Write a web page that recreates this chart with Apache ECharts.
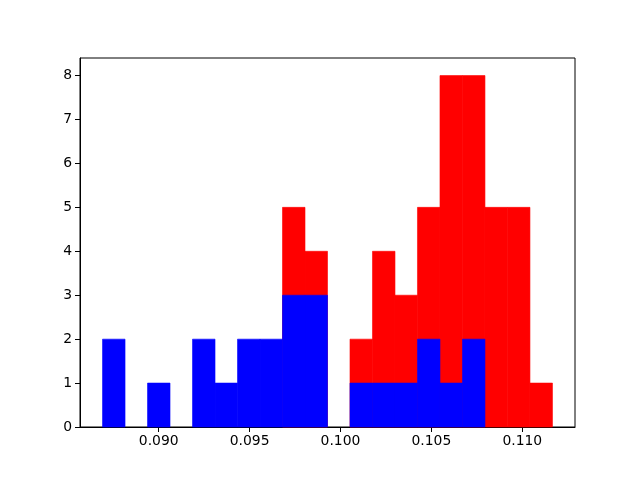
<!DOCTYPE html>
<html>
<head>
<meta charset="utf-8">
<script src="https://cdn.jsdelivr.net/npm/echarts@6/dist/echarts.min.js"></script>
<style>
  html, body { margin: 0; padding: 0; background: #fff; }
  #main { width: 640px; height: 480px; }
</style>
</head>
<body>
<div id="main"></div>
<script>
// shared histogram bins (20 bins)
const binStart = 0.08691;
const binWidth = 0.0012375;
const redCounts  = [0, 0, 0, 0, 0, 0, 0, 0, 5, 4, 0, 2, 4, 3, 5, 8, 8, 5, 5, 1];
const blueCounts = [2, 0, 1, 0, 2, 1, 2, 2, 3, 3, 0, 1, 1, 1, 2, 1, 2, 0, 0, 0];
const xTicks = [0.090, 0.095, 0.100, 0.105, 0.110];
const yTicks = [0, 1, 2, 3, 4, 5, 6, 7, 8];

function toBins(counts) {
  return counts.map((c, i) => [binStart + i * binWidth, binStart + (i + 1) * binWidth, c]);
}

function renderItem(params, api) {
  const h = api.value(2);
  if (!h) return null;
  const p0 = api.coord([api.value(0), h]);
  const p1 = api.coord([api.value(1), 0]);
  const color = api.visual("color");
  return {
    type: "rect",
    shape: { x: p0[0], y: p0[1], width: p1[0] - p0[0], height: p1[1] - p0[1] },
    style: { fill: color, stroke: color, lineWidth: 0.6 },
  };
}

var chartDom = document.getElementById("main");
var myChart = echarts.init(chartDom);
var option;

const labelStyle = {
  fontFamily: "DejaVu Sans, sans-serif",
  fontSize: 13.9,
  color: "#000",
};

option = {
  animation: false,
  grid: {
    left: 80, right: 65, top: 58, bottom: 53,
    show: true, borderColor: "#000", borderWidth: 1,
  },
  xAxis: {
    type: "value",
    min: 0.08567,
    max: 0.1129,
    splitLine: { show: false },
    axisLine: { lineStyle: { color: "#000" } },
    axisTick: { show: true, length: 5, customValues: xTicks, lineStyle: { color: "#000" } },
    axisLabel: {
      ...labelStyle,
      margin: 7,
      customValues: xTicks,
      formatter: (v) => v.toFixed(3),
    },
  },
  yAxis: {
    type: "value",
    min: 0,
    max: 8.4,
    splitLine: { show: false },
    axisLine: { show: true, lineStyle: { color: "#000" } },
    axisTick: { show: true, length: 5, customValues: yTicks, lineStyle: { color: "#000" } },
    axisLabel: {
      ...labelStyle,
      margin: 8,
      customValues: yTicks,
    },
  },
  series: [
    {
      type: "custom",
      name: "red",
      color: "#ff0000",
      renderItem: renderItem,
      encode: { x: [0, 1], y: 2 },
      data: toBins(redCounts),
    },
    {
      type: "custom",
      name: "blue",
      color: "#0000ff",
      renderItem: renderItem,
      encode: { x: [0, 1], y: 2 },
      data: toBins(blueCounts),
    },
  ],
};

option && myChart.setOption(option);
</script>
</body>
</html>
